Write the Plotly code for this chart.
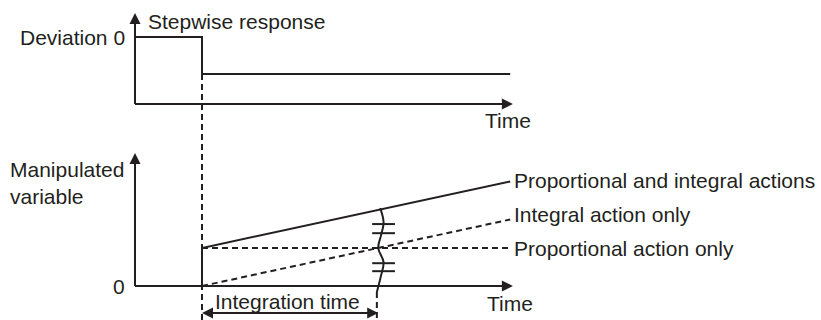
import plotly.graph_objects as go

# time axis (arbitrary units), step at t = 1, integration time Ti = 2.63
t_step = 1.0
t_ti = 3.63
t_end = 5.6
t_axis_end = 5.64

# top panel: deviation (0 before the step, -1 after)
dev_t = [0, 1.0, 1.0, 5.6]
dev_v = [0, 0, -1, -1]
dev_axis_low = -1.81
dev_axis_high = 0.65

# bottom panel: manipulated variable
pi_t = [0, 1.0, 1.0, 5.6]
pi_m = [0, 0, 1.0, 2.75]          # proportional and integral actions
i_t = [1.0, 5.6]
i_m = [0, 1.75]                    # integral action only
p_t = [1.0, 5.6]
p_m = [1.0, 1.0]                   # proportional action only
mv_axis_high = 3.5

# wavy break mark at the integration time
wave_t = [3.66, 3.71, 3.67, 3.63, 3.71, 3.67, 3.61]
wave_m = [2.05, 1.68, 1.32, 1.0, 0.63, 0.26, -0.16]
tick_m = [1.63, 1.39, 0.60, 0.39]
tick_t = [3.54, 3.88]

INK = "#231f20"
FONT = dict(family="Liberation Sans, Arial, sans-serif", size=21, color=INK)
DASH = "6px,4px"

fig = go.Figure()

def line(x, y, axis="y", dash="solid", shape="linear"):
    fig.add_trace(go.Scatter(x=x, y=y, yaxis=axis, mode="lines",
                             line=dict(color=INK, width=2, dash=dash, shape=shape),
                             hoverinfo="skip", showlegend=False))

# top panel
line([0, 0], [dev_axis_low, dev_axis_high - 0.2])
line([0, t_axis_end - 0.1], [dev_axis_low, dev_axis_low])
line(dev_t, dev_v)
line([t_step, t_step], [-1, -7.7], dash=DASH)

# bottom panel
line([0, 0], [0, mv_axis_high - 0.3], axis="y2")
line([0, t_axis_end - 0.1], [0, 0], axis="y2")
line(pi_t, pi_m, axis="y2")
line(i_t, i_m, axis="y2", dash=DASH)
line(p_t, p_m, axis="y2", dash=DASH)
line(wave_t, wave_m, axis="y2", shape="spline")
for m in tick_m:
    line(tick_t, [m, m], axis="y2")
line([3.61, 3.61], [-0.16, -0.95], axis="y2", dash=DASH)
line([t_step + 0.12, t_ti - 0.12], [-0.71, -0.71], axis="y2")

def arrow(x, y, ax, ay, yref="y"):
    fig.add_annotation(x=x, y=y, ax=ax, ay=ay, xref="x", yref=yref,
                       axref="x", ayref=yref, text="", showarrow=True,
                       arrowhead=2, arrowsize=1.1, arrowwidth=2, arrowcolor=INK,
                       standoff=0, startstandoff=0)

arrow(0, dev_axis_high, 0, dev_axis_high - 0.5)
arrow(t_axis_end, dev_axis_low, t_axis_end - 0.4, dev_axis_low)
arrow(0, mv_axis_high, 0, mv_axis_high - 0.5, "y2")
arrow(t_axis_end, 0, t_axis_end - 0.4, 0, "y2")
arrow(t_step, -0.71, t_step + 0.4, -0.71, "y2")
arrow(t_ti, -0.71, t_ti - 0.4, -0.71, "y2")

def label(x, y, text, anchor="left", yref="y"):
    fig.add_annotation(x=x, y=y, xref="x", yref=yref, text=text, showarrow=False,
                       xanchor=anchor, yanchor="middle", align=anchor, font=FONT)

label(0.16, 0.42, "Stepwise response")
label(-0.12, 0, "Deviation 0", "right")
label(5.2, -2.27, "Time")
label(-1.9, 2.72, "Manipulated<br>variable", yref="y2")
label(-0.12, 0, "0", "right", "y2")
label(5.23, -0.45, "Time", yref="y2")
label(1.17, -0.42, "Integration time", yref="y2")
label(5.62, 2.77, "Proportional and integral actions", yref="y2")
label(5.62, 1.89, "Integral action only", yref="y2")
label(5.62, 1.0, "Proportional action only", yref="y2")

fig.update_layout(
    width=821, height=320,
    margin=dict(l=0, r=0, t=0, b=0),
    paper_bgcolor="white", plot_bgcolor="white",
    xaxis=dict(range=[-135 / 67, 686 / 67], visible=False),
    yaxis=dict(range=[1 - 320 / 37, 1], visible=False),
    yaxis2=dict(range=[-34 / 38, 286 / 38], overlaying="y", visible=False),
)

fig.write_html("out.html", config={"displayModeBar": False},
               post_script="document.body.style.margin='0';")
